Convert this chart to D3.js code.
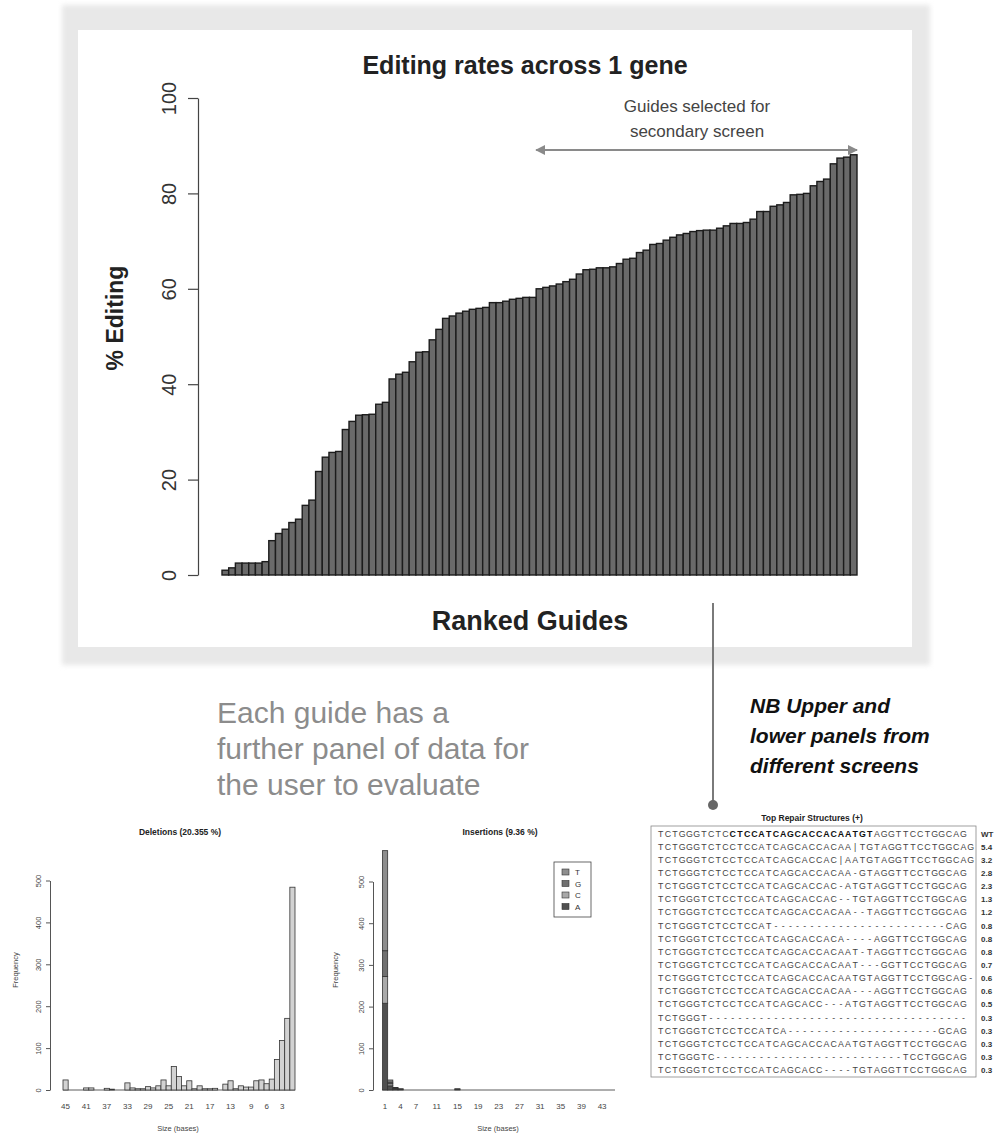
<!DOCTYPE html>
<html><head><meta charset="utf-8">
<script src="https://cdn.jsdelivr.net/npm/d3@7"></script>
<style>
html,body{margin:0;padding:0;background:#fff;}
svg{display:block;font-family:"Liberation Sans",Arial,Helvetica,sans-serif;}
</style></head><body>
<svg id="fig" width="997" height="1135"></svg>
<script>
// ---------- DATA ----------
const editingRates = [1.0,1.5,2.5,2.5,2.5,2.5,2.8,7.2,8.7,9.6,
  11.0,11.7,14.6,15.7,21.7,24.7,25.7,25.9,30.5,32.2,
  33.5,33.6,33.7,35.8,36.2,41.1,42.1,42.5,44.7,46.7,
  46.8,49.3,51.5,53.8,54.3,54.9,55.3,55.7,55.9,56.1,
  57.1,57.1,57.4,57.8,58.0,58.2,58.2,60.0,60.3,60.6,
  61.0,61.5,62.0,63.1,64.0,64.1,64.4,64.4,64.6,65.3,
  66.2,66.4,67.6,68.1,69.3,69.5,70.2,70.8,71.3,71.6,
  72.0,72.2,72.3,72.3,72.7,73.2,73.7,73.7,73.9,74.6,
  76.2,76.2,77.3,77.6,78.1,79.7,79.8,80.0,81.6,82.5,
  83.0,86.2,87.4,87.6,88.1];
const guideRanks = editingRates.map((d, i) => i + 1);
const mainYTicks = [0, 20, 40, 60, 80, 100];

const delSizes = [45,44,43,42,41,40,39,38,37,36,35,34,33,32,31,30,29,28,27,26,25,24,23,22,21,20,19,18,17,16,15,14,13,12,11,10,9,8,7,6,5,4,3,2,1];
const delFreq  = [24,0,0,0,5,5,0,0,4,2,0,0,17,5,3,3,8,5,10,24,10,56,32,10,22,3,10,3,3,4,0,14,22,3,10,7,7,22,24,15,26,73,118,171,484];
const delTickLabels = [45,41,37,33,29,25,21,17,13,9,6,3];

const insSizes = [1,2,3,4,5,6,7,8,9,10,11,12,13,14,15,16,17,18,19,20,21,22,23,24,25,26,27,28,29,30,31,32,33,34,35,36,37,38,39,40,41,42,43,44,45];
const insA = [208,10,3,2,0,0,0,0,0,0,0,0,0,0,2,0,0,0,0,0,0,0,0,0,0,0,0,0,0,0,0,0,0,0,0,0,0,0,0,0,0,0,0,0,0];
const insC = [64,5,1,0,0,0,0,0,0,0,0,0,0,0,0,0,0,0,0,0,0,0,0,0,0,0,0,0,0,0,0,0,0,0,0,0,0,0,0,0,0,0,0,0,0];
const insG = [62,4,1,1,0,0,0,0,0,0,0,0,0,0,0,0,0,0,0,0,0,0,0,0,0,0,0,0,0,0,0,0,0,0,0,0,0,0,0,0,0,0,0,0,0];
const insT = [240,5,1,0,0,0,0,0,0,0,0,0,0,0,1,0,0,0,0,0,0,0,0,0,0,0,0,0,0,0,0,0,0,0,0,0,0,0,0,0,0,0,0,0,0];
const insTickLabels = [1,4,7,11,15,19,23,27,31,35,39,43];
const baseKeys = ["A","C","G","T"];
const baseColors = {A:"#505050", C:"#a9a9a9", G:"#707070", T:"#8e8e8e"};
const histYTicks = [0,100,200,300,400,500];

const repairSeqs = [
  "TCTGGGTCTCCTCCATCAGCACCACAATGTAGGTTCCTGGCAG",
  "TCTGGGTCTCCTCCATCAGCACCACAA|TGTAGGTTCCTGGCAG",
  "TCTGGGTCTCCTCCATCAGCACCAC|AATGTAGGTTCCTGGCAG",
  "TCTGGGTCTCCTCCATCAGCACCACAA-GTAGGTTCCTGGCAG",
  "TCTGGGTCTCCTCCATCAGCACCAC-ATGTAGGTTCCTGGCAG",
  "TCTGGGTCTCCTCCATCAGCACCAC--TGTAGGTTCCTGGCAG",
  "TCTGGGTCTCCTCCATCAGCACCACAA--TAGGTTCCTGGCAG",
  "TCTGGGTCTCCTCCAT------------------------CAG",
  "TCTGGGTCTCCTCCATCAGCACCACA----AGGTTCCTGGCAG",
  "TCTGGGTCTCCTCCATCAGCACCACAAT-TAGGTTCCTGGCAG",
  "TCTGGGTCTCCTCCATCAGCACCACAAT---GGTTCCTGGCAG",
  "TCTGGGTCTCCTCCATCAGCACCACAATGTAGGTTCCTGGCAG-",
  "TCTGGGTCTCCTCCATCAGCACCACAA---AGGTTCCTGGCAG",
  "TCTGGGTCTCCTCCATCAGCACC---ATGTAGGTTCCTGGCAG",
  "TCTGGGT------------------------------------",
  "TCTGGGTCTCCTCCATCA---------------------GCAG",
  "TCTGGGTCTCCTCCATCAGCACCACAATGTAGGTTCCTGGCAG",
  "TCTGGGTC--------------------------TCCTGGCAG",
  "TCTGGGTCTCCTCCATCAGCACC----TGTAGGTTCCTGGCAG"
];
const repairPct = ["WT","5.4","3.2","2.8","2.3","1.3","1.2","0.8","0.8","0.8","0.7","0.6","0.6","0.5","0.3","0.3","0.3","0.3","0.3"];

// ---------- DRAW ----------
const svg = d3.select("#fig");
const defs = svg.append("defs");
defs.append("filter").attr("id","soft").attr("x","-5%").attr("y","-5%").attr("width","110%").attr("height","110%")
  .append("feGaussianBlur").attr("stdDeviation", 2.5);
defs.append("marker").attr("id","ah").attr("viewBox","0 0 10 10").attr("refX",9).attr("refY",5)
  .attr("markerWidth",5).attr("markerHeight",5).attr("orient","auto-start-reverse").attr("markerUnits","strokeWidth")
  .append("path").attr("d","M0,0 L10,5 L0,10 z").attr("fill","#8a8a8a");

// frame
svg.append("rect").attr("x",62).attr("y",5).attr("width",868).attr("height",660).attr("fill","#e8e8e8").attr("filter","url(#soft)");
svg.append("rect").attr("x",78).attr("y",30).attr("width",834).attr("height",617).attr("fill","#fff");

// main chart
const x = d3.scaleBand().domain(guideRanks).range([222, 857]).padding(0);
const y = d3.scaleLinear().domain([0, 100]).range([575, 98]);

svg.append("g").selectAll("rect").data(editingRates).join("rect")
  .attr("x", (d, i) => x(guideRanks[i]))
  .attr("y", d => y(d))
  .attr("width", x.bandwidth())
  .attr("height", d => y(0) - y(d))
  .attr("fill", "#6a6a6a").attr("stroke", "#1c1c1c").attr("stroke-width", 1.4);

const yAx = svg.append("g").attr("transform","translate(198,0)")
  .call(d3.axisLeft(y).tickValues(mainYTicks).tickSize(10).tickSizeOuter(0));
yAx.select(".domain").attr("stroke","#444").attr("stroke-width",1.2);
yAx.selectAll(".tick line").attr("stroke","#444").attr("stroke-width",1.2);
yAx.selectAll(".tick text").attr("x",0).attr("dy",0).attr("transform","translate(-22,0) rotate(-90)")
  .attr("text-anchor","middle").attr("font-size",20).attr("fill","#333")
  .attr("font-family","Liberation Sans, Arial, sans-serif");

svg.append("text").attr("transform","translate(123,318) rotate(-90)").attr("text-anchor","middle")
  .attr("font-size",23).attr("font-weight","bold").attr("fill","#222").text("% Editing");
svg.append("text").attr("x",525).attr("y",74).attr("text-anchor","middle")
  .attr("font-size",25).attr("font-weight","bold").attr("fill","#222").text("Editing rates across 1 gene");
svg.append("text").attr("x",530).attr("y",630).attr("text-anchor","middle")
  .attr("font-size",27).attr("font-weight","bold").attr("fill","#222").text("Ranked Guides");

svg.append("text").attr("x",697).attr("y",112).attr("text-anchor","middle")
  .attr("font-size",17).attr("fill","#444").text("Guides selected for");
svg.append("text").attr("x",697).attr("y",137).attr("text-anchor","middle")
  .attr("font-size",17).attr("fill","#444").text("secondary screen");
svg.append("line").attr("x1",x(48)).attr("x2",x(95)+x.bandwidth()).attr("y1",150).attr("y2",150)
  .attr("stroke","#8a8a8a").attr("stroke-width",2)
  .attr("marker-start","url(#ah)").attr("marker-end","url(#ah)");

// connector
svg.append("line").attr("x1",713).attr("x2",713).attr("y1",603).attr("y2",803).attr("stroke","#7a7a7a").attr("stroke-width",2);
svg.append("circle").attr("cx",713).attr("cy",805).attr("r",5).attr("fill","#666");

// captions
const cap1 = ["Each guide has a","further panel of data for","the user to evaluate"];
svg.append("g").selectAll("text").data(cap1).join("text")
  .attr("x",217).attr("y",(d,i)=>723+i*36).attr("font-size",30).attr("fill","#8c8c8c").text(d=>d);
const cap2 = ["NB Upper and","lower panels from","different screens"];
svg.append("g").selectAll("text").data(cap2).join("text")
  .attr("x",750).attr("y",(d,i)=>713+i*30).attr("font-size",21).attr("font-weight","bold")
  .attr("font-style","italic").attr("fill","#111").text(d=>d);

// ---------- Histograms ----------
function histAxis(xpos, yScale){
  const g = svg.append("g").attr("transform",`translate(${xpos},0)`)
    .call(d3.axisLeft(yScale).tickValues(histYTicks).tickSize(4).tickSizeOuter(0));
  g.select(".domain").attr("stroke","#555");
  g.selectAll(".tick line").attr("stroke","#555");
  g.selectAll(".tick text").attr("x",0).attr("dy",0).attr("transform","translate(-9,0) rotate(-90)")
    .attr("text-anchor","middle").attr("font-size",7.5).attr("fill","#444")
    .attr("font-family","Liberation Sans, Arial, sans-serif");
}

// deletions
const dx = d3.scaleBand().domain(delSizes).range([63, 295]).padding(0);
const dy = d3.scaleLinear().domain([0, 500]).range([1090, 880.5]);
svg.append("line").attr("x1",dx.range()[0]).attr("x2",dx.range()[1]).attr("y1",dy(0)).attr("y2",dy(0))
  .attr("stroke","#333").attr("stroke-width",0.8);
svg.append("g").selectAll("rect").data(delFreq).join("rect")
  .attr("x",(d,i)=>dx(delSizes[i])).attr("y",d=>dy(d)).attr("width",dx.bandwidth())
  .attr("height",d=>dy(0)-dy(d)).attr("fill","#d2d2d2").attr("stroke","#333").attr("stroke-width",0.8);
histAxis(50, dy);
svg.append("g").selectAll("text").data(delTickLabels).join("text")
  .attr("x",d=>dx(d)+dx.bandwidth()/2).attr("y",1109).attr("text-anchor","middle")
  .attr("font-size",8).attr("fill","#444").text(d=>d);
svg.append("text").attr("x",180).attr("y",835).attr("text-anchor","middle").attr("font-size",8.5)
  .attr("font-weight","bold").attr("fill","#222").text("Deletions (20.355 %)");
svg.append("text").attr("x",178).attr("y",1131).attr("text-anchor","middle").attr("font-size",7.5)
  .attr("fill","#444").text("Size (bases)");
svg.append("text").attr("transform","translate(18,970) rotate(-90)").attr("text-anchor","middle")
  .attr("font-size",7.5).attr("fill","#444").text("Frequency");

// insertions
const ix = d3.scaleBand().domain(insSizes).range([382.5, 615]).padding(0);
const iy = d3.scaleLinear().domain([0, 500]).range([1090, 881.5]);
svg.append("line").attr("x1",ix.range()[0]).attr("x2",ix.range()[1]).attr("y1",iy(0)).attr("y2",iy(0))
  .attr("stroke","#333").attr("stroke-width",0.8);
const insRows = insSizes.map((s,i)=>({size:s, A:insA[i], C:insC[i], G:insG[i], T:insT[i]}));
const stack = d3.stack().keys(baseKeys)(insRows);
svg.append("g").selectAll("g").data(stack).join("g").attr("fill",d=>baseColors[d.key])
  .selectAll("rect").data(d=>d).join("rect")
  .attr("x",d=>ix(d.data.size)).attr("y",d=>iy(d[1])).attr("width",ix.bandwidth())
  .attr("height",d=>iy(d[0])-iy(d[1])).attr("stroke","#333").attr("stroke-width",0.8);
histAxis(373, iy);
svg.append("g").selectAll("text").data(insTickLabels).join("text")
  .attr("x",d=>ix(d)+ix.bandwidth()/2).attr("y",1109).attr("text-anchor","middle")
  .attr("font-size",8).attr("fill","#444").text(d=>d);
svg.append("text").attr("x",500).attr("y",835).attr("text-anchor","middle").attr("font-size",8.5)
  .attr("font-weight","bold").attr("fill","#222").text("Insertions (9.36 %)");
svg.append("text").attr("x",498).attr("y",1131).attr("text-anchor","middle").attr("font-size",7.5)
  .attr("fill","#444").text("Size (bases)");
svg.append("text").attr("transform","translate(338,970) rotate(-90)").attr("text-anchor","middle")
  .attr("font-size",7.5).attr("fill","#444").text("Frequency");
// legend
const lg = svg.append("g");
lg.append("rect").attr("x",554).attr("y",862).attr("width",37).attr("height",55).attr("fill","#fff").attr("stroke","#444").attr("stroke-width",0.8);
const legendKeys = ["T","G","C","A"];
legendKeys.forEach((k,i)=>{
  lg.append("rect").attr("x",562).attr("y",869+i*11.5).attr("width",7).attr("height",6)
    .attr("fill",baseColors[k]).attr("stroke","#333").attr("stroke-width",0.6);
  lg.append("text").attr("x",575).attr("y",875+i*11.5).attr("font-size",8).attr("fill","#333").text(k);
});

// ---------- Repair structures table ----------
svg.append("text").attr("x",812).attr("y",821).attr("text-anchor","middle").attr("font-size",8.5)
  .attr("font-weight","bold").attr("fill","#222").text("Top Repair Structures (+)");
svg.append("rect").attr("x",651).attr("y",826).attr("width",325).attr("height",251)
  .attr("fill","#fff").attr("stroke","#888").attr("stroke-width",0.8);
const pitch = 7.21, seqX0 = 660.6, row0 = 836.5, rowH = 13.15;
const boldRange = [10, 30];
repairSeqs.forEach((s, r) => {
  const t = svg.append("text").attr("y", row0 + r*rowH).attr("font-size",8.8).attr("text-anchor","middle").attr("fill","#444");
  const chars = s.split("");
  const segs = r === 0 ? [[0,boldRange[0],false],[boldRange[0],boldRange[1],true],[boldRange[1],chars.length,false]] : [[0,chars.length,false]];
  segs.forEach(([a,b,bold]) => {
    const xs = d3.range(a,b).map(i => (seqX0 + i*pitch).toFixed(2)).join(" ");
    t.append("tspan").attr("x", xs).attr("font-weight", bold ? "bold" : "normal")
      .attr("fill", bold ? "#111" : "#444").text(chars.slice(a,b).join(""));
  });
  svg.append("text").attr("x",981).attr("y",row0 + r*rowH).attr("font-size",8).attr("font-weight","bold")
    .attr("fill","#333").text(repairPct[r]);
});
</script></body></html>
